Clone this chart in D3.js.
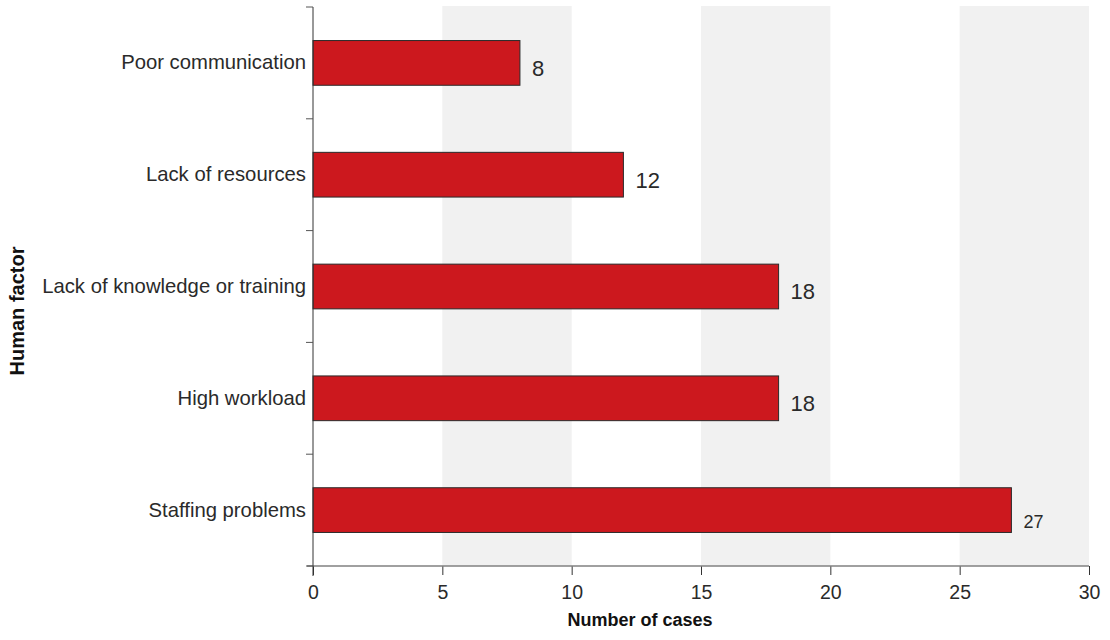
<!DOCTYPE html>
<html>
<head>
<meta charset="utf-8">
<script src="https://cdn.jsdelivr.net/npm/d3@7"></script>
<style>
  body { margin: 0; background: #fff; }
  text { font-family: "Liberation Sans", Arial, sans-serif; }
</style>
</head>
<body>
<svg id="chart" width="1110" height="640"></svg>
<script>
const categories = ["Poor communication", "Lack of resources", "Lack of knowledge or training", "High workload", "Staffing problems"];
const values = [8, 12, 18, 18, 27];
const xTicks = [0, 5, 10, 15, 20, 25, 30];
const shadedBands = [[5, 10], [15, 20], [25, 30]];
const xTitle = "Number of cases";
const yTitle = "Human factor";

const svg = d3.select("#chart");
const mLeft = 313, mRight = 1089, mTop = 7, mBottom = 566;

const x = d3.scaleLinear().domain([0, 30]).range([mLeft, mRight]);
const y = d3.scaleBand().domain(categories).range([mTop, mBottom]).paddingInner(0.6).paddingOuter(0.3);

// shaded bands
svg.append("g").selectAll("rect").data(shadedBands).join("rect")
  .attr("x", d => x(d[0])).attr("width", d => x(d[1]) - x(d[0]))
  .attr("y", mTop - 1).attr("height", mBottom - mTop + 1)
  .attr("fill", "#f1f1f1");

// bars
svg.append("g").selectAll("rect").data(values).join("rect")
  .attr("x", x(0)).attr("y", (d, i) => y(categories[i]))
  .attr("width", d => x(d) - x(0)).attr("height", y.bandwidth())
  .attr("fill", "#cc181e").attr("stroke", "#2a2a2a").attr("stroke-width", 1);

// value labels
svg.append("g").selectAll("text").data(values).join("text")
  .attr("x", d => x(d) + 12)
  .attr("y", (d, i) => y(categories[i]) + y.bandwidth() / 2 + (d > 25 ? 13 : 7))
  .attr("dominant-baseline", "middle")
  .attr("font-size", d => d > 25 ? 18 : 22)
  .attr("fill", "#2a2a2a")
  .text(d => d);

// x axis
const xAxis = svg.append("g").attr("transform", `translate(0,${mBottom})`)
  .call(d3.axisBottom(x).tickValues(xTicks).tickSize(9).tickPadding(10).tickFormat(d3.format("d")));
xAxis.select(".domain").remove();
xAxis.append("line").attr("x1", mLeft - 6).attr("x2", mRight).attr("y1", 0).attr("y2", 0)
  .attr("stroke", "#808080").attr("stroke-width", 1.5);
xAxis.selectAll(".tick line").attr("stroke", "#333");
xAxis.selectAll(".tick text").attr("font-size", 19.5).attr("fill", "#2a2a2a")
  .attr("font-family", "Liberation Sans, Arial, sans-serif");

// y axis
const yAxis = svg.append("g").attr("transform", `translate(${mLeft},0)`)
  .call(d3.axisLeft(y).tickSize(0).tickPadding(7));
yAxis.select(".domain").remove();
yAxis.selectAll(".tick text").attr("font-size", 20.3).attr("fill", "#2a2a2a")
  .attr("font-family", "Liberation Sans, Arial, sans-serif");
svg.append("line").attr("x1", mLeft).attr("x2", mLeft).attr("y1", mTop).attr("y2", mBottom + 10)
  .attr("stroke", "#333").attr("stroke-width", 1);
// y ticks between bands
const boundaries = d3.range(categories.length + 1).map(i => mTop + i * (mBottom - mTop) / categories.length);
svg.append("g").selectAll("line").data(boundaries).join("line")
  .attr("x1", mLeft - 7).attr("x2", mLeft).attr("y1", d => d).attr("y2", d => d)
  .attr("stroke", "#555").attr("stroke-width", 1);

// titles
svg.append("text").attr("x", 640).attr("y", 626).attr("text-anchor", "middle")
  .attr("font-size", 18).attr("font-weight", "bold").attr("fill", "#111").text(xTitle);
svg.append("text").attr("transform", "translate(24,311) rotate(-90)").attr("text-anchor", "middle")
  .attr("font-size", 20).attr("font-weight", "bold").attr("fill", "#111").text(yTitle);
</script>
</body>
</html>
